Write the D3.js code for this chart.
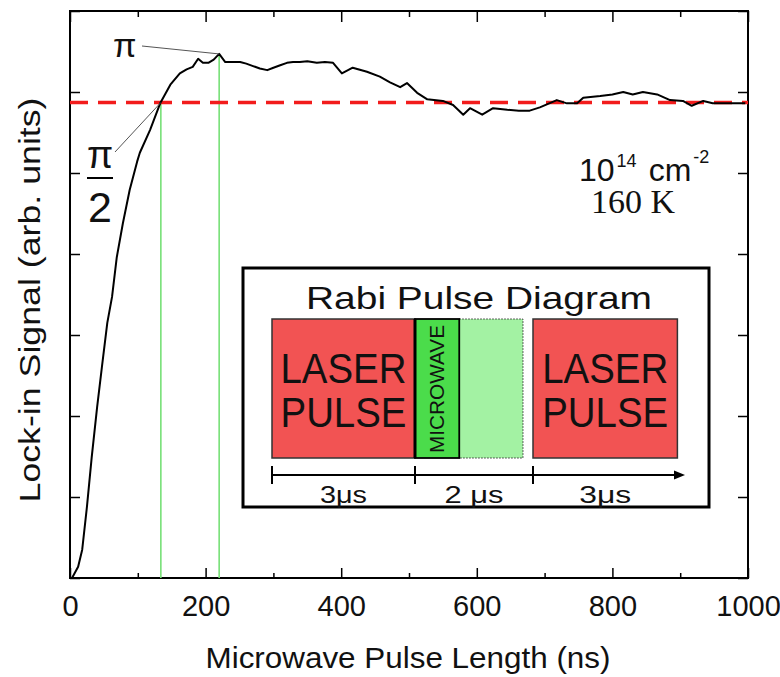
<!DOCTYPE html>
<html>
<head>
<meta charset="utf-8">
<script src="https://cdn.jsdelivr.net/npm/d3@7"></script>
<style>
  body { margin: 0; background: #fff; }
  svg { display: block; }
  text { fill: #111; }
</style>
</head>
<body>
<script>
// microwave pulse length (ns) and lock-in signal (arb. units)
var pulseNs = [3, 12, 18, 25, 32, 40, 47, 55, 62, 69, 78, 88, 99, 103, 118, 133, 148, 162, 172, 181,
    189, 196, 204, 212, 220, 229, 240, 251, 260, 270, 280, 291, 300, 310, 320, 329, 339, 350, 364, 376,
    388, 401, 417, 438, 457, 472, 487, 497, 512, 527, 550, 565, 580, 590, 608, 624, 645, 662, 678, 693,
    718, 733, 748, 757, 782, 800, 816, 830, 845, 866, 885, 904, 917, 934, 948, 963, 978, 996];
var signal = [0, 0.14, 0.35, 0.88, 1.49, 2.11, 2.60, 3.15, 3.47, 3.96, 4.38, 4.79, 5.14, 5.25, 5.53, 5.86, 6.09, 6.23, 6.28, 6.31,
    6.41, 6.36, 6.36, 6.40, 6.47, 6.37, 6.37, 6.37, 6.35, 6.32, 6.29, 6.27, 6.30, 6.33, 6.36, 6.37, 6.37, 6.38, 6.36, 6.37,
    6.36, 6.23, 6.30, 6.25, 6.19, 6.12, 6.06, 6.11, 5.99, 5.91, 5.89, 5.84, 5.72, 5.80, 5.72, 5.80, 5.78, 5.77, 5.77, 5.81,
    5.90, 5.86, 5.86, 5.93, 5.95, 5.97, 6.00, 5.97, 6.00, 5.97, 5.90, 5.89, 5.83, 5.89, 5.86, 5.86, 5.86, 5.86];

var majorTicks = [0, 200, 400, 600, 800, 1000];
var minorTicks = [100, 300, 500, 700, 900];
var yTicks = [0, 1, 2, 3, 4, 5, 6, 7];
var saturation = 5.87;     // red dashed level
var halfPiNs = 134;        // pi/2 pulse
var piNs = 220;            // pi pulse
var piSignal = 6.47;

// inset timeline (µs)
var segments = [
    { label: "3\u03bcs", start: 0, end: 3 },
    { label: "2 \u03bcs", start: 3, end: 5 },
    { label: "3\u03bcs", start: 5, end: 7.85 }
];
var laserPulses = [[0, 3], [5, 7.85]];
var microwavePulse = [3, 3.75];
var microwaveWindow = [3.75, 4.83];

var SANS = '"Liberation Sans", Arial, sans-serif';
var SERIF = '"Liberation Serif", "Times New Roman", serif';

var W = 780, H = 677;
var svg = d3.select('body').append('svg').attr('width', W).attr('height', H)
    .style('font-family', SANS);

var x = d3.scaleLinear().domain([0, 1000]).range([70, 748]);
var y = d3.scaleLinear().domain([0, 7]).range([578, 11]);

function axisStyle(g) {
    g.select('.domain').remove();
    g.selectAll('line').attr('stroke', '#000').attr('stroke-width', 1.5);
}

// bottom axis
svg.append('g').attr('transform', 'translate(0,578)')
    .call(d3.axisBottom(x).tickValues(majorTicks).tickSize(-10).tickSizeOuter(0).tickPadding(17)
        .tickFormat(d3.format('d')))
    .call(axisStyle)
    .call(function(g) {
        g.selectAll('text').attr('font-size', 29).style('font-family', SANS).attr('fill', '#111');
    });
svg.append('g').attr('transform', 'translate(0,578)')
    .call(d3.axisBottom(x).tickValues(minorTicks).tickSize(-5).tickSizeOuter(0).tickFormat(''))
    .call(axisStyle);
// top axis
svg.append('g').attr('transform', 'translate(0,11)')
    .call(d3.axisTop(x).tickValues(majorTicks).tickSize(-11).tickSizeOuter(0).tickFormat(''))
    .call(axisStyle);
svg.append('g').attr('transform', 'translate(0,11)')
    .call(d3.axisTop(x).tickValues(minorTicks).tickSize(-6).tickSizeOuter(0).tickFormat(''))
    .call(axisStyle);
// left / right
svg.append('g').attr('transform', 'translate(70,0)')
    .call(d3.axisLeft(y).tickValues(yTicks).tickSize(-10).tickSizeOuter(0).tickFormat(''))
    .call(axisStyle);
svg.append('g').attr('transform', 'translate(748,0)')
    .call(d3.axisRight(y).tickValues(yTicks).tickSize(-10).tickSizeOuter(0).tickFormat(''))
    .call(axisStyle);

// frame
svg.append('rect')
    .attr('x', x(0)).attr('y', y(7))
    .attr('width', x(1000) - x(0)).attr('height', y(0) - y(7))
    .attr('fill', 'none').attr('stroke', '#000').attr('stroke-width', 2);

// green markers
svg.append('line')
    .attr('x1', x(halfPiNs)).attr('x2', x(halfPiNs))
    .attr('y1', y(saturation)).attr('y2', y(0))
    .attr('stroke', '#77e077').attr('stroke-width', 1.6);
svg.append('line')
    .attr('x1', x(piNs)).attr('x2', x(piNs))
    .attr('y1', y(piSignal)).attr('y2', y(0))
    .attr('stroke', '#77e077').attr('stroke-width', 1.6);

// dashed saturation level
svg.append('line')
    .attr('x1', x(0)).attr('x2', x(1000))
    .attr('y1', y(saturation)).attr('y2', y(saturation))
    .attr('stroke', '#f21c1c').attr('stroke-width', 3.5)
    .attr('stroke-dasharray', '18,10');

// signal curve
var pts = pulseNs.map(function(d, i) { return [d, signal[i]]; });
svg.append('path')
    .datum(pts)
    .attr('fill', 'none').attr('stroke', '#000').attr('stroke-width', 2)
    .attr('stroke-linejoin', 'round')
    .attr('d', d3.line().x(function(d) { return x(d[0]); }).y(function(d) { return y(d[1]); }));

// pi labels
svg.append('line').attr('x1', 142).attr('y1', 46).attr('x2', x(piNs)).attr('y2', y(piSignal))
    .attr('stroke', '#555').attr('stroke-width', 1);
svg.append('text').attr('x', 113).attr('y', 57).attr('font-size', 34).text('\u03c0');

svg.append('line').attr('x1', 115).attr('y1', 152).attr('x2', x(halfPiNs)).attr('y2', y(saturation))
    .attr('stroke', '#555').attr('stroke-width', 1);
svg.append('text').attr('x', 100).attr('y', 168).attr('text-anchor', 'middle').attr('font-size', 38).text('\u03c0');
svg.append('line').attr('x1', 87).attr('x2', 113).attr('y1', 178).attr('y2', 178)
    .attr('stroke', '#000').attr('stroke-width', 2);
svg.append('text').attr('x', 100).attr('y', 222).attr('text-anchor', 'middle').attr('font-size', 43).text('2');

// density / temperature
var dens = svg.append('text').attr('x', 579).attr('y', 181).attr('font-size', 32)
    .style('font-family', SANS);
dens.append('tspan').text('10');
dens.append('tspan').attr('font-size', 18).attr('dy', -14).attr('dx', 2).text('14');
dens.append('tspan').attr('dy', 14).attr('dx', 12).text('cm');
dens.append('tspan').attr('font-size', 18).attr('dy', -18).attr('dx', 2).text('-2');
svg.append('text').attr('x', 591).attr('y', 213)
    .style('font-family', SERIF)
    .attr('font-size', 34).text('160 K');

// axis titles
svg.append('text').attr('x', 408).attr('y', 668).attr('text-anchor', 'middle')
    .attr('font-size', 29).attr('textLength', 405).attr('lengthAdjust', 'spacingAndGlyphs')
    .text('Microwave Pulse Length (ns)');
svg.append('text').attr('transform', 'translate(40,300) rotate(-90)').attr('text-anchor', 'middle')
    .attr('font-size', 29).attr('textLength', 405).attr('lengthAdjust', 'spacingAndGlyphs')
    .text('Lock-in Signal (arb. units)');

// ---- inset: Rabi pulse diagram ----
var inset = svg.append('g');
inset.append('rect').attr('x', 243).attr('y', 268).attr('width', 466).attr('height', 239)
    .attr('fill', '#fff').attr('stroke', '#000').attr('stroke-width', 3);
inset.append('text').attr('x', 479).attr('y', 309).attr('text-anchor', 'middle')
    .attr('font-size', 32).attr('textLength', 346).attr('lengthAdjust', 'spacingAndGlyphs')
    .text('Rabi Pulse Diagram');

// timeline scale: 3 µs / 2 µs / 3 µs drawn with uneven widths as in the original
var t = d3.scaleLinear().domain([0, 3, 5, 8]).range([272, 415, 533, 685]);
var boxTop = 319, boxBot = 458;

// laser pulses
laserPulses.forEach(function(s) {
    var x0 = t(s[0]), x1 = t(s[1]);
    inset.append('rect').attr('x', x0).attr('y', boxTop).attr('width', x1 - x0).attr('height', boxBot - boxTop)
        .attr('fill', '#f25353').attr('stroke', '#333').attr('stroke-width', 1.5);
    var cx = (x0 + x1) / 2;
    inset.append('text').attr('x', cx).attr('y', 383).attr('text-anchor', 'middle')
        .attr('font-size', 43).attr('textLength', 126).attr('lengthAdjust', 'spacingAndGlyphs').text('LASER');
    inset.append('text').attr('x', cx).attr('y', 427).attr('text-anchor', 'middle')
        .attr('font-size', 43).attr('textLength', 126).attr('lengthAdjust', 'spacingAndGlyphs').text('PULSE');
});

// microwave window (dotted) and microwave pulse
inset.append('rect').attr('x', t(microwaveWindow[0])).attr('y', boxTop)
    .attr('width', t(microwaveWindow[1]) - t(microwaveWindow[0])).attr('height', boxBot - boxTop)
    .attr('fill', '#a3f2a3').attr('stroke', '#333').attr('stroke-width', 1).attr('stroke-dasharray', '1.5,1.5');
inset.append('rect').attr('x', t(microwavePulse[0])).attr('y', boxTop)
    .attr('width', t(microwavePulse[1]) - t(microwavePulse[0])).attr('height', boxBot - boxTop)
    .attr('fill', '#4bdc4b').attr('stroke', '#000').attr('stroke-width', 1.8);
inset.append('line').attr('x1', t(microwavePulse[0])).attr('x2', t(microwavePulse[0]))
    .attr('y1', boxTop).attr('y2', boxBot)
    .attr('stroke', '#000').attr('stroke-width', 3);
var mwCx = (t(microwavePulse[0]) + t(microwavePulse[1])) / 2;
inset.append('text').attr('transform', 'translate(' + (mwCx + 7) + ',389) rotate(-90)').attr('text-anchor', 'middle')
    .attr('font-size', 20.5).attr('textLength', 128).attr('lengthAdjust', 'spacingAndGlyphs').text('MICROWAVE');

// timeline
var tl = 475;
inset.append('line').attr('x1', t(0)).attr('x2', t(8) - 8).attr('y1', tl).attr('y2', tl)
    .attr('stroke', '#000').attr('stroke-width', 2);
inset.append('path').attr('d', 'M' + t(8) + ',' + tl + 'l-11,-4.5v9z').attr('fill', '#000');
inset.selectAll('.seg-tick').data(segments).enter().append('line')
    .attr('x1', function(d) { return t(d.start); })
    .attr('x2', function(d) { return t(d.start); })
    .attr('y1', tl - 9).attr('y2', tl + 9)
    .attr('stroke', '#000').attr('stroke-width', 2);
var labelW = [47, 59, 52];
inset.selectAll('.seg-label').data(segments).enter().append('text')
    .attr('x', function(d) { return (t(d.start) + t(d.end)) / 2; }).attr('y', 503)
    .attr('text-anchor', 'middle').attr('font-size', 23)
    .attr('textLength', function(d, i) { return labelW[i]; }).attr('lengthAdjust', 'spacingAndGlyphs')
    .text(function(d) { return d.label; });
</script>
</body>
</html>
